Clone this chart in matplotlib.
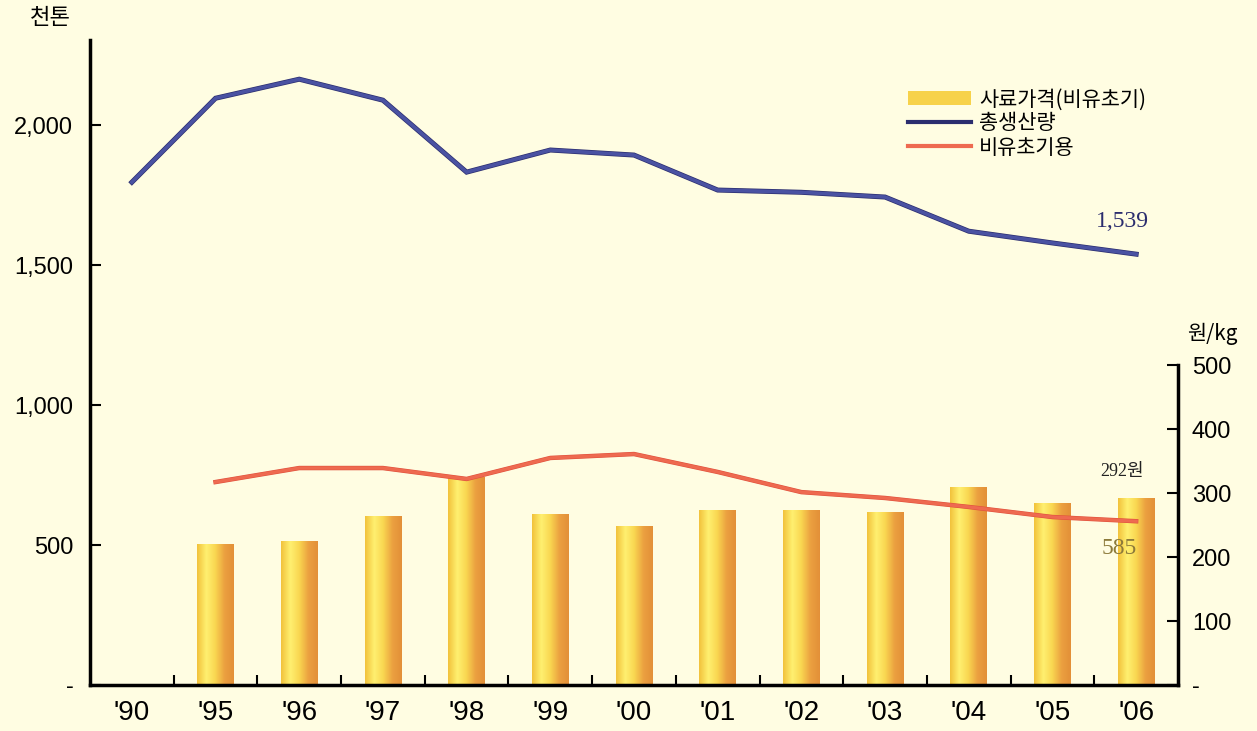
import matplotlib.pyplot as plt
import numpy as np
from matplotlib.colors import LinearSegmentedColormap
from matplotlib.patches import Patch
from matplotlib.lines import Line2D
import matplotlib.patheffects as pe

years = ["'90", "'95", "'96", "'97", "'98", "'99", "'00", "'01", "'02", "'03", "'04", "'05", "'06"]
total_prod = [1796, 2096, 2164, 2089, 1832, 1911, 1893, 1768, 1760, 1743, 1621, 1579, 1539]
early_use = [np.nan, 725, 775, 775, 736, 811, 825, 761, 689, 668, 636, 600, 585]
feed_price = [np.nan, 219, 225, 264, 325, 266, 248, 273, 273, 270, 308, 284, 292]

left_ticks = [0, 500, 1000, 1500, 2000]
left_labels = ['-', '500', '1,000', '1,500', '2,000']
right_ticks = [0, 100, 200, 300, 400, 500]
right_labels = ['-', '100', '200', '300', '400', '500']

plt.rcParams['font.family'] = ['Liberation Sans', 'Noto Sans CJK KR', 'DejaVu Sans']

bg = '#FFFDE2'
fig = plt.figure(figsize=(12.57, 7.31), dpi=100, facecolor=bg)
ax = fig.add_axes([90 / 1257, 1 - 685 / 731, 1088 / 1257, 645 / 731])
ax2 = ax.twinx()
ax.set_zorder(ax2.get_zorder() + 1)
ax.patch.set_visible(False)
ax2.set_facecolor(bg)

x = np.arange(len(years))

# bars with horizontal gradient (right axis)
cmap = LinearSegmentedColormap.from_list('bar', ['#F2C23C', '#FFF070', '#F9D650', '#EBA040', '#E39038'])
grad = np.linspace(0, 1, 64).reshape(1, -1)
w = 0.44
for xi, v in zip(x, feed_price):
    if np.isnan(v):
        continue
    ax2.imshow(grad, cmap=cmap, aspect='auto', extent=(xi - w / 2, xi + w / 2, 0, v), zorder=2)

# lines (left axis)
ax.plot(x, total_prod, color='#4A52A2', lw=2.6, solid_joinstyle='miter', zorder=5,
        path_effects=[pe.Stroke(linewidth=3.6, foreground='#2B2D6E'), pe.Normal()])
ax.plot(x, early_use, color='#EE6A50', lw=2.4, zorder=4,
        path_effects=[pe.Stroke(linewidth=3.2, foreground='#E0503C'), pe.Normal()])

ax.set_xlim(-0.5, len(years) - 0.5)
ax.set_ylim(0, 2304)
ax2.set_ylim(0, 1008)

ax.set_xticks(x)
ax.set_xticklabels(years, fontsize=20)
ax.set_xticks(np.arange(0.5, len(years) - 1, 1), minor=True)
ax.tick_params(axis='x', which='major', length=0, pad=11)
ax.tick_params(axis='x', which='minor', direction='in', length=7, width=1.5)

ax.set_yticks(left_ticks)
ax.set_yticklabels(left_labels, fontsize=17)
ax.tick_params(axis='y', direction='in', length=8, width=1.5, pad=12)

ax2.set_yticks(right_ticks)
ax2.set_yticklabels(right_labels, fontsize=17)
ax2.tick_params(axis='y', direction='in', length=8, width=1.5, pad=10)

for s in ['top', 'right']:
    ax.spines[s].set_visible(False)
for s in ['top', 'left', 'bottom']:
    ax2.spines[s].set_visible(False)
ax.spines['left'].set_linewidth(2.5)
ax.spines['bottom'].set_linewidth(2.5)
ax2.spines['right'].set_linewidth(2.5)
ax2.spines['right'].set_bounds(0, 500)

fig.text(50 / 1257, 1 - 18 / 731, '천톤', fontsize=16, ha='center', va='center', family=['Noto Sans CJK KR'])
fig.text(1212 / 1257, 1 - 334 / 731, '원/kg', fontsize=15, ha='center', va='center',
         family=['Noto Sans CJK KR'])

ax.text(11.83, 1654, '1,539', fontsize=17, color='#2B2D6E', ha='center', va='center',
        family=['Liberation Serif'])
ax2.text(11.83, 333, '292원', fontsize=13, color='#222222', ha='center', va='center',
         family=['Liberation Serif', 'Noto Sans CJK KR'])
ax.text(11.8, 489, '585', fontsize=17, color='#8C7A3A', ha='center', va='center',
        family=['Liberation Serif'])

handles = [Patch(facecolor='#F7D24A', edgecolor='none'),
           Line2D([], [], color='#2B2D6E', lw=3),
           Line2D([], [], color='#EE6A50', lw=3)]
ax.legend(handles, ['사료가격(비유초기)', '총생산량', '비유초기용'], loc='upper left',
          bbox_to_anchor=(810 / 1088, 1 - 40 / 645), frameon=False,
          prop={'family': ['Noto Sans CJK KR'], 'size': 15}, handlelength=3.0,
          handletextpad=0.4, labelspacing=0.1, borderaxespad=0)

fig.savefig('out.png', dpi=100, facecolor=bg)
